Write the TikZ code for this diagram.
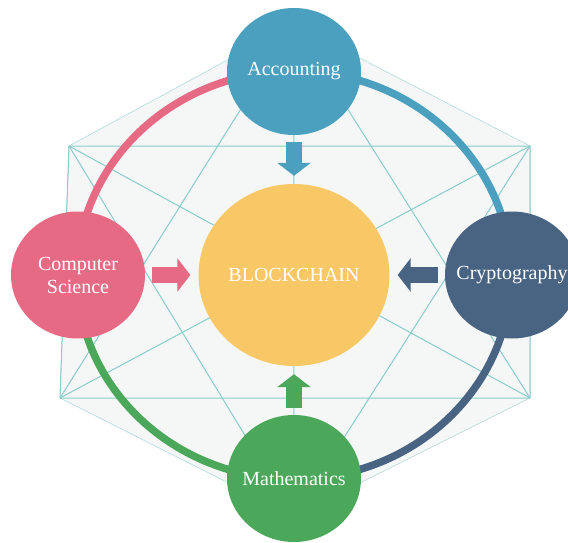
\documentclass[tikz,border=0pt]{standalone}
\usepackage{fontspec}
\setmainfont{Liberation Serif}
\usepackage{xcolor}
\usepackage{tikz}
\usetikzlibrary{shapes.geometric, arrows.meta, positioning}
\definecolor{bcyellow}{RGB}{249, 200, 102}
\definecolor{bcblue}{RGB}{74, 160, 190}
\definecolor{bcpink}{RGB}{231, 106, 132}
\definecolor{bcnavy}{RGB}{73, 100, 130}
\definecolor{bcgreen}{RGB}{75, 168, 90}
\definecolor{bcteal}{RGB}{138, 204, 204}
\definecolor{bcpaper}{RGB}{245, 246, 246}

\begin{document}
\begin{tikzpicture}[x=1pt, y=1pt, line join=round,
		field/.style={ellipse, minimum width=134pt, minimum height=127pt, inner sep=0pt},
		fieldtext/.style={text=white, font=\fontsize{20}{23}\selectfont, align=center},
		ring/.style={line width=7.5pt},
		web/.style={bcteal, line width=1pt},
		feed/.style={line width=16pt, line cap=butt, -{Triangle[width=33pt, length=13pt]}, shorten <=7pt, shorten >=8pt}]
			\useasboundingbox (-294,-267) rectangle (274,275);

			% -- Hexagon Web --
			\coordinate (vT) at (0,251);
			\coordinate (vTR) at (236,129);
			\coordinate (vBR) at (236,-123);
			\coordinate (vB) at (0,-241);
			\coordinate (vBL) at (-234,-123);
			\coordinate (vTL) at (-225,129);
			\draw[bcteal!70, fill=bcpaper, line width=0.6pt] (vT) -- (vTR) -- (vBR) -- (vB) -- (vBL) -- (vTL) -- cycle;
			\draw[web] (vTR) -- (vBR) (vBL) -- (vTL);
			\draw[web] (vT) -- (vBR) -- (vBL) -- cycle; % star, first triangle
			\draw[web] (vTL) -- (vTR) -- (vB) -- cycle; % star, second triangle
			\draw[web] (vT) -- (vB) (vTL) -- (vBR) (vTR) -- (vBL);

			% -- Outer Ring --
			\draw[ring, bcblue] (0,204) arc[start angle=90, end angle=0, x radius=217, y radius=204];
			\draw[ring, bcpink] (0,204) arc[start angle=90, end angle=180, x radius=217, y radius=204];
			\draw[ring, bcgreen] (-217,0) arc[start angle=180, end angle=270, x radius=217, y radius=204];
			\draw[ring, bcnavy] (217,0) arc[start angle=0, end angle=-90, x radius=217, y radius=204];

			% -- Fields --
			\node[field, fill=bcyellow, minimum width=191pt, minimum height=182pt, label={[fieldtext]center:BLOCKCHAIN}] (chain) at (0,0) {};
			\node[field, fill=bcblue, label={[fieldtext]center:Accounting}] (acc) at (0,203.5) {};
			\node[field, fill=bcpink, label={[fieldtext]center:{Computer\\Science}}] (cs) at (-216,0) {};
			\node[field, fill=bcnavy, label={[fieldtext]center:Cryptography}] (crypto) at (218,0) {};
			\node[field, fill=bcgreen, label={[fieldtext]center:Mathematics}] (math) at (0,-203.5) {};

			% -- Feeding Arrows --
			\draw[feed, bcblue] (acc) -- (chain);
			\draw[feed, bcpink] (cs) -- (chain);
			\draw[feed, bcnavy] (crypto) -- (chain);
			\draw[feed, bcgreen] (math) -- (chain);

		\end{tikzpicture}
\end{document}
